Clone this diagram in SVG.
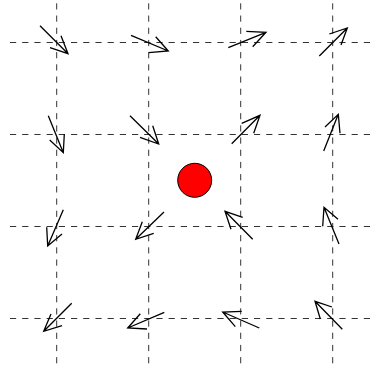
<svg xmlns="http://www.w3.org/2000/svg" width="372" height="368" viewBox="0 0 372 368">
<style>
.grid{stroke:#333;stroke-width:1;stroke-dasharray:6.2 6;fill:none}
.arr{stroke:#000;stroke-width:1.3;fill:none;stroke-linecap:butt;stroke-linejoin:miter}
</style>
<rect width="372" height="368" fill="#fff"/>
<g id="grid">
<line class="grid" x1="10" y1="42.5" x2="372" y2="42.5"/>
<line class="grid" x1="10" y1="134.5" x2="372" y2="134.5"/>
<line class="grid" x1="10" y1="226.5" x2="372" y2="226.5"/>
<line class="grid" x1="10" y1="318.5" x2="372" y2="318.5"/>
<line class="grid" x1="56.7" y1="3.3" x2="56.7" y2="365"/>
<line class="grid" x1="148.7" y1="3.3" x2="148.7" y2="365"/>
<line class="grid" x1="240.7" y1="3.3" x2="240.7" y2="365"/>
<line class="grid" x1="332.7" y1="3.3" x2="332.7" y2="365"/>
</g>
<g id="connectors">
<path class="arr" d="M40,25.7L68,53.7M61,35.7L68,53.7L50,47.7"/>
<path class="arr" d="M131,35.3L168.3,51M155.7,36.7L168.3,51L148.7,52.7"/>
<path class="arr" d="M228.3,47.7L266,32.3M246.3,31.3L266,32.3L252.7,46.7"/>
<path class="arr" d="M319.3,56L347.3,28M329.3,34L347.3,28L341,45"/>
<path class="arr" d="M48.3,115.7L63.3,152.7M64.3,134.3L63.3,152.7L49.7,140"/>
<path class="arr" d="M130,115.7L158.7,144M152.7,125.7L158.7,144L140,137.3"/>
<path class="arr" d="M231.7,143.7L260,115.3M241.7,123.3L260,115.3L253.7,133.3"/>
<path class="arr" d="M323.7,151L338.3,114.3M325,127L338.3,114.3L340,133.3"/>
<path class="arr" d="M63.3,209.7L47.7,246M46.7,227.3L47.7,246L62,234"/>
<path class="arr" d="M164,212L135.7,239.3M142.3,221.7L135.7,239.3L153.7,233.3"/>
<path class="arr" d="M252.7,239.3L225,211.3M242.7,217.3L225,211.3L231,229.3"/>
<path class="arr" d="M339,244L324,207.3M338,219.3L324,207.3L322.7,226.3"/>
<path class="arr" d="M71.7,303.3L43.7,331.3M51,314L43.7,331.3L62,325.7"/>
<path class="arr" d="M164.3,312.3L127.7,328M140.3,313.7L127.7,328L147,329"/>
<path class="arr" d="M259.3,328L222.7,312M241.7,311.3L222.7,312L235.3,326.7"/>
<path class="arr" d="M342.3,329.3L315,301.3M332,307L315,301.3L320.3,319"/>
</g>
<g id="charge">
<circle cx="194.7" cy="180.3" r="17" fill="#ff0000" stroke="#000" stroke-width="1"/>
</g>
</svg>
